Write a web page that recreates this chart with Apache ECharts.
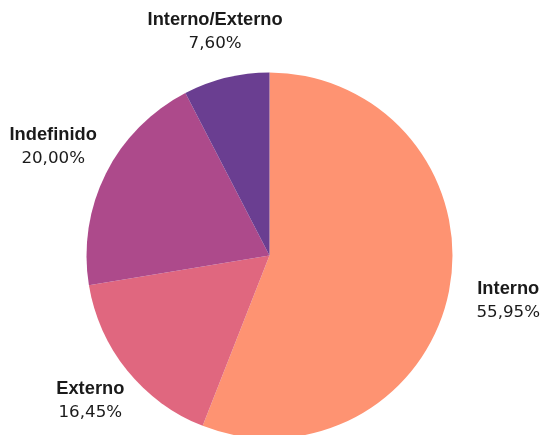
<!DOCTYPE html>
<html>
<head>
<meta charset="utf-8">
<script src="https://cdn.jsdelivr.net/npm/echarts@6/dist/echarts.min.js"></script>
<style>
html,body{margin:0;padding:0;background:#fff;}
#chart{width:543px;height:435px;}
</style>
</head>
<body>
<div id="chart"></div>
<script>
// ---- data ----
var categories = ['Interno', 'Externo', 'Indefinido', 'Interno/Externo'];
var values = [55.95, 16.45, 20.00, 7.60];

// ---- styles ----
var colors = ['#FE9372', '#E0677F', '#AD4A8B', '#6A3E91'];
var PIE_CENTER = [269.5, 255.5];
var PIE_RADIUS = 183;
var labelGap = [60, 47.5, 59, 47]; // extra radial distance of each label centre beyond the rim

var total = values.reduce(function (a, b) { return a + b; }, 0);

function fmt(v) { return v.toFixed(2).replace('.', ',') + '%'; }

var chart = echarts.init(document.getElementById('chart'), null, {renderer: 'canvas'});
chart.setOption({
  animation: false,
  backgroundColor: '#ffffff',
  series: [{
    type: 'pie',
    center: PIE_CENTER,
    radius: PIE_RADIUS,
    startAngle: 90,
    clockwise: true,
    avoidLabelOverlap: false,
    itemStyle: {borderWidth: 0},
    emphasis: {disabled: true},
    data: categories.map(function (c, i) {
      return {name: c, value: values[i], itemStyle: {color: colors[i]}};
    }),
    label: {
      show: true,
      position: 'outside',
      alignTo: 'none',
      formatter: function (p) { return '{n|' + p.name + '}\n{v|' + fmt(p.value) + '}'; },
      rich: {
        n: {fontFamily: 'Liberation Sans', fontWeight: 'bold', fontSize: 18.3, color: '#1a1a1a', lineHeight: 24, align: 'center'},
        v: {fontFamily: 'DejaVu Sans', fontSize: 16.7, color: '#1a1a1a', lineHeight: 24, align: 'center'}
      }
    },
    labelLine: {show: false},
    labelLayout: function (p) {
      var i = p.dataIndex;
      var before = 0;
      for (var k = 0; k < i; k++) before += values[k];
      var mid = (before + values[i] / 2) / total * Math.PI * 2;
      var ux = Math.sin(mid), uy = -Math.cos(mid);
      var d = PIE_RADIUS + labelGap[i];
      return {
        x: PIE_CENTER[0] + ux * d,
        y: PIE_CENTER[1] + uy * d,
        align: 'center',
        verticalAlign: 'middle'
      };
    }
  }]
});
</script>
</body>
</html>
